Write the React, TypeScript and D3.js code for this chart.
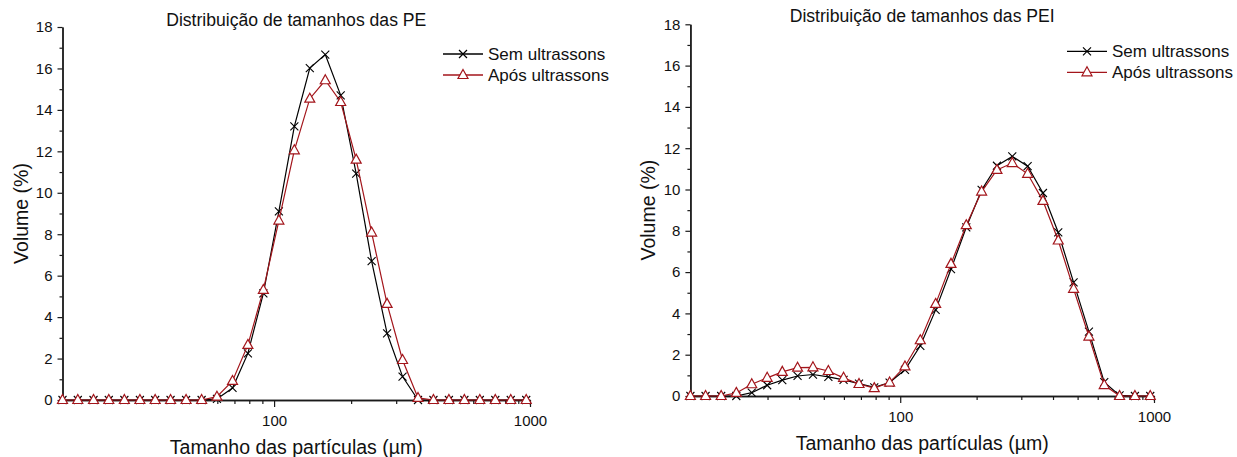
import React, { useEffect, useRef } from "react";
import * as d3 from "d3";

// particle size classes (µm), same bins for both samples
const sizes = [
  14.9, 17.1, 19.7, 22.6, 26.0, 29.9, 34.3, 39.4, 45.3, 52.1, 59.8, 68.8, 79.0,
  90.8, 104.4, 120.0, 137.9, 158.5, 182.1, 209.3, 240.5, 276.4, 317.7, 365.1,
  419.5, 482.1, 554.1, 636.7, 731.8, 841.0, 966.5,
];

// PE, volume (%)
const peSem = [
  0, 0, 0, 0, 0, 0, 0, 0, 0, 0, 0.05, 0.58, 2.25, 5.15, 9.1, 13.2, 16.02, 16.67,
  14.7, 10.92, 6.7, 3.22, 1.13, 0, 0, 0, 0, 0, 0, 0, 0,
];
const peApos = [
  0, 0, 0, 0, 0, 0, 0, 0, 0, 0, 0.16, 0.92, 2.66, 5.31, 8.66, 12.05, 14.54,
  15.43, 14.38, 11.6, 8.08, 4.64, 1.93, 0.1, 0, 0, 0, 0, 0, 0, 0,
];

// PEI, volume (%)
const peiSem = [
  0, 0, 0, 0, 0.16, 0.52, 0.77, 0.97, 1.04, 0.93, 0.78, 0.6, 0.42, 0.65, 1.27,
  2.43, 4.17, 6.14, 8.17, 9.98, 11.15, 11.6, 11.13, 9.83, 7.92, 5.5, 3.12, 0.67,
  0.03, 0, 0,
];
const peiApos = [
  0, 0, 0, 0.15, 0.57, 0.88, 1.17, 1.37, 1.39, 1.21, 0.88, 0.58, 0.38, 0.65,
  1.43, 2.7, 4.46, 6.4, 8.27, 9.9, 10.95, 11.28, 10.76, 9.45, 7.53, 5.19, 2.88,
  0.53, 0, 0, 0,
];

const yTicks = [0, 2, 4, 6, 8, 10, 12, 14, 16, 18];
const xTickLabels = [100, 1000];
const seriesNames = ["Sem ultrassons", "Após ultrassons"];
const titles = ["Distribuição de tamanhos das PE", "Distribuição de tamanhos das PEI"];
const xTitle = "Tamanho das partículas (µm)";
const yTitle = "Volume (%)";

const FONT = "'Liberation Sans', Arial, sans-serif";
const AXIS = "#1a1a1a";
const RED = "#a3151b";

const frames = [
  { left: 62.5, right: 530, top: 27, bottom: 400, titleY: 26, legendX: 443 },
  { left: 690.4, right: 1154, top: 24.3, bottom: 396, titleY: 22, legendX: 1067 },
];

const X_PATH = "M-4,-4L4,4M4,-4L-4,4";
const TRI_PATH = "M0,-5.5L5,3.5L-5,3.5Z";

function drawPanel(g, frame, title, sem, apos) {
  const x = d3.scaleLog().domain([sizes[0], 1000]).range([frame.left, frame.right]);
  const y = d3.scaleLinear().domain([0, 18]).range([frame.bottom, frame.top]);

  // x axis: labelled decades + minor ticks
  const minorX = x.ticks().filter((t) => !xTickLabels.includes(t));
  g.append("g")
    .attr("transform", `translate(0,${frame.bottom})`)
    .call(d3.axisBottom(x).tickValues(minorX).tickSize(4).tickSizeOuter(0).tickFormat(() => ""));
  g.append("g")
    .attr("transform", `translate(0,${frame.bottom})`)
    .call(
      d3.axisBottom(x).tickValues(xTickLabels).tickSize(7).tickSizeOuter(0).tickPadding(8)
        .tickFormat(d3.format("d"))
    );

  // y axis
  const minorY = y.ticks(18).filter((t) => t % 2 === 1);
  g.append("g")
    .attr("transform", `translate(${frame.left},0)`)
    .call(d3.axisLeft(y).tickValues(minorY).tickSize(3).tickSizeOuter(0).tickFormat(() => ""));
  g.append("g")
    .attr("transform", `translate(${frame.left},0)`)
    .call(d3.axisLeft(y).tickValues(yTicks).tickSize(5).tickSizeOuter(0).tickPadding(5));

  g.selectAll(".domain").attr("stroke", AXIS).attr("stroke-width", 1.4);
  g.selectAll(".tick line").attr("stroke", AXIS).attr("stroke-width", 1.2);
  g.selectAll(".tick text")
    .attr("fill", "#111")
    .style("font-family", FONT)
    .style("font-size", "15px");

  const cx = (frame.left + frame.right) / 2;
  const cy = (frame.top + frame.bottom) / 2;

  g.append("text")
    .attr("x", cx)
    .attr("y", frame.titleY)
    .attr("text-anchor", "middle")
    .style("font-family", FONT)
    .style("font-size", "17.6px")
    .attr("fill", "#111")
    .text(title);

  g.append("text")
    .attr("x", cx)
    .attr("y", frame.bottom + 54)
    .attr("text-anchor", "middle")
    .style("font-family", FONT)
    .style("font-size", "19.5px")
    .attr("fill", "#111")
    .text(xTitle);

  g.append("text")
    .attr("transform", `translate(${frame.left - 35},${cy}) rotate(-90)`)
    .attr("text-anchor", "middle")
    .style("font-family", FONT)
    .style("font-size", "19.5px")
    .attr("fill", "#111")
    .text(yTitle);

  const line = d3
    .line<number>()
    .x((_, i) => x(sizes[i]))
    .y((d) => y(d));

  // Sem ultrassons
  g.append("path")
    .attr("d", line(sem))
    .attr("fill", "none")
    .attr("stroke", "#000")
    .attr("stroke-width", 1.2);
  g.append("g")
    .selectAll("path")
    .data(sem)
    .enter()
    .append("path")
    .attr("transform", (d, i) => `translate(${x(sizes[i])},${y(d)})`)
    .attr("d", X_PATH)
    .attr("fill", "none")
    .attr("stroke", "#000")
    .attr("stroke-width", 1.1);

  // Após ultrassons
  g.append("path")
    .attr("d", line(apos))
    .attr("fill", "none")
    .attr("stroke", RED)
    .attr("stroke-width", 1.2);
  g.append("g")
    .selectAll("path")
    .data(apos)
    .enter()
    .append("path")
    .attr("transform", (d, i) => `translate(${x(sizes[i])},${y(d)})`)
    .attr("d", TRI_PATH)
    .attr("fill", "#fff")
    .attr("stroke", RED)
    .attr("stroke-width", 1.2);

  // legend
  const legend = g
    .append("g")
    .selectAll("g")
    .data(seriesNames)
    .enter()
    .append("g")
    .attr("transform", (d, i) => `translate(${frame.legendX},${frame.top + 27 + i * 21})`);
  legend
    .append("line")
    .attr("x1", 0)
    .attr("x2", 40)
    .attr("stroke", (d, i) => (i === 0 ? "#000" : RED))
    .attr("stroke-width", 1.3);
  legend
    .append("path")
    .attr("transform", "translate(20,0)")
    .attr("d", (d, i) => (i === 0 ? X_PATH : TRI_PATH))
    .attr("fill", (d, i) => (i === 0 ? "none" : "#fff"))
    .attr("stroke", (d, i) => (i === 0 ? "#000" : RED))
    .attr("stroke-width", 1.2);
  legend
    .append("text")
    .attr("x", 45)
    .attr("dy", "0.35em")
    .style("font-family", FONT)
    .style("font-size", "17px")
    .attr("fill", "#111")
    .text((d) => d);
}

const App = () => {
  const ref = useRef(null);

  useEffect(() => {
    const svg = d3.select(ref.current);
    svg.selectAll("*").remove();
    drawPanel(svg.append("g"), frames[0], titles[0], peSem, peApos);
    drawPanel(svg.append("g"), frames[1], titles[1], peiSem, peiApos);
  }, []);

  return (
    <svg
      ref={ref}
      width={1237}
      height={457}
      style={{ position: "absolute", left: 0, top: 0, background: "#fff" }}
    />
  );
};

export default App;
